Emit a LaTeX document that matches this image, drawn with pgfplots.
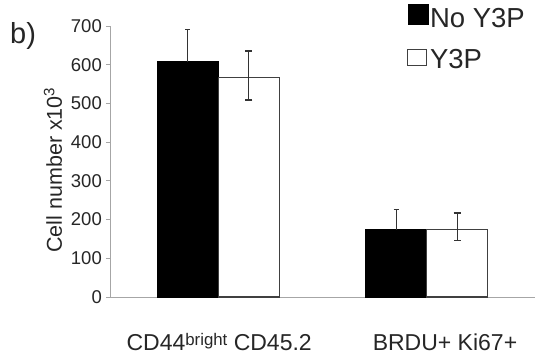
\documentclass[border=0pt]{standalone}
\usepackage{pgfplots}
\pgfplotsset{compat=1.18}
\usepackage{fontspec}
\setmainfont{Liberation Sans}
\begin{document}
\begin{tikzpicture}
\useasboundingbox (-110pt,-62pt) rectangle (425pt,297pt);
\begin{axis}[
  at={(0pt,0pt)}, anchor=south west,
  scale only axis, width=425pt, height=271pt,
  xmin=-0.52, xmax=1.52, ymin=0, ymax=700,
  axis lines*=left,
  axis line style={draw=black!35, line width=0.9pt},
  ybar=0pt, bar width=61pt,
  ytick={0,100,...,700},
  xtick={0.004,1.088},
  xticklabels={{CD44\raisebox{5pt}{\fontsize{16.8}{17}\selectfont bright} CD45.2},{BRDU+ Ki67+}},
  x tick style={draw=none},
  y tick style={draw=black!35, line width=0.9pt},
  tick align=outside, major tick length=4pt,
  /pgf/number format/assume math mode=true,
  yticklabel style={font=\fontsize{18.5}{22}\selectfont, text=black!85, inner sep=0pt, xshift=-4pt},
  xticklabel style={font=\fontsize{23}{27}\selectfont, text=black!85, anchor=base, inner sep=0pt, yshift=-49pt},
  ylabel={Cell number x10\textsuperscript{3}},
  ylabel style={at={(axis description cs:-0.113,0.469)}, anchor=base, inner sep=0pt, font=\fontsize{21.5}{26}\selectfont, text=black!85},
  legend style={at={(rel axis cs:0.699,1.081)}, anchor=north west, draw=none, fill=none, inner sep=0pt,
    font=\fontsize{27.5}{33}\selectfont, text=black!85, row sep=16pt,
    /tikz/every even column/.append style={column sep=8pt}},
  legend cell align=left,
  clip=false,
]
\addplot[fill=black, draw=black,
  legend image code/.code={\draw[fill=black, draw=black] (0pt,-6pt) rectangle (20pt,14pt);},
  error bars/.cd, y dir=plus, y explicit,
  error bar style={line width=1.1pt, black!80},
  error mark options={black!80, line width=1.1pt, mark size=2.5pt, rotate=90}]
coordinates {(0,608) +- (0,82) (1,174) +- (0,52)};
\addlegendentry{No Y3P}
\addplot[fill=white, draw=black!75, line width=1.3pt,
  legend image code/.code={\draw[fill=white, draw=black!75, line width=1.2pt] (0pt,-6pt) rectangle (19pt,10pt);},
  error bars/.cd, y dir=both, y explicit,
  error bar style={line width=1.1pt, black!80},
  error mark options={black!80, line width=1.1pt, mark size=3.5pt, rotate=90}]
coordinates {(0,567) += (0,68.5) -= (0,58) (1,174) += (0,43) -= (0,28)};
\addlegendentry{Y3P}
\end{axis}
\node[anchor=base west, font=\fontsize{29}{34}\selectfont, inner sep=0pt, text=black!85] at (-100pt,253pt) {b)};
\end{tikzpicture}
\end{document}
